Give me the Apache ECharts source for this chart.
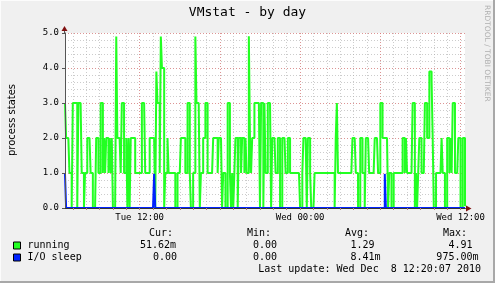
<!DOCTYPE html>
<html><head><meta charset="utf-8">
<script src="https://cdn.jsdelivr.net/npm/echarts@6/dist/echarts.min.js"></script>
<style>html,body{margin:0;padding:0;background:#f0f0f0}#c{width:495px;height:283px}</style>
</head><body><div id="c"></div>
<script>
// 5-minute samples, first sample Tue 06:25, last Wed 12:20
const startMinute = 6 * 60 + 25;
const stepMinutes = 5;
const running = [
 3,2,2,2,1,1,0,3,3,3,3,0,3,3,3,1,1,0,1,1,
 2,2,2,1,1,0,0,0,2,2,1,1,3,3,1,2,1,2,2,1,
 2,1,2,0,0,0,4.9,2,2,2,1,3,3,1,1,2,0,2,0,2,
 2,2,2,1,1,1,1,1,1,3,3,3,1,1,1,1,2,2,2,2,
 2,0,3.9,3,3,1,4.9,4,4,0,1,1,2,1,1,1,1,1,1,0,
 0,1,1,1,2,2,2,2,1,1,3,3,1,0,0,1,1,4.9,3,3,
 3,0,1,1,2,2,3,3,1,1,1,1,1,2,2,2,2,1,2,2,
 2,0,1,1,0,0,3,3,1,0,1,0,1,2,2,0,2,2,1,2,
 2,1,2,1,1,4.91,2,1,2,2,3,3,3,3,3,0,3,3,0,3,
 1,1,3,3,3,0,2,2,2,1,1,2,2,0,0,2,2,2,1,1,
 2,2,1,1,1,1,1,1,1,1,1,0,0,1,2,2,2,0,2,2,
 1,0,0,0,1,1,1,1,1,1,1,1,1,1,1,1,1,1,1,1,
 1,1,0,2,3,1,1,1,1,1,1,1,1,1,1,1,1,1,2,2,
 2,1,1,0,0,2,2,1,1,0,2,2,2,1,1,1,1,1,2,2,
 2,1,1,3,3,2,2,2,2,2,0,1,1,0,0,1,1,1,1,1,
 1,1,1,2,2,1,2,1,1,1,1,1,3,3,0,1,0,1,2,2,
 1,1,1,3,3,2,2,3.9,3.9,3.65,2,0,0,1,1,1,1,1,2,1,
 1,0,0,2,2,1,2,1,3,3,1,1,1,2,2,0,0,2,2,0.05162
];
const ioSleepIdx = [0, 80, 287];
const ioSleepVal = [0.975, 0.975, 0.975];
const tickLabels = ['Tue 12:00', 'Wed 00:00', 'Wed 12:00'];
const seriesNames = ['running', 'I/O sleep'];
const seriesColors = ['#22ff22', '#0022ff'];
const statHeaders = ['Cur:', 'Min:', 'Avg:', 'Max:'];
const runningStats = ['51.62m', '0.00', '1.29', '4.91'];
const ioSleepStats = ['0.00', '0.00', '8.41m', '975.00m'];
const lastUpdate = 'Last update: Wed Dec  8 12:20:07 2010';
const titleText = 'VMstat - by day';
const yName = 'process states';
const sideText = 'RRDTOOL / TOBI OETIKER';

const categories = running.map((_, i) => {
  const m = startMinute + i * stepMinutes;
  const day = m >= 1440 ? 'Wed' : 'Tue';
  const mm = m % 1440;
  const h = String(Math.floor(mm / 60)).padStart(2, '0');
  const mi = String(mm % 60).padStart(2, '0');
  return day + ' ' + h + ':' + mi;
});
const ioSleep = running.map(() => 0);
ioSleepIdx.forEach((k, j) => { ioSleep[k] = ioSleepVal[j]; });

const isHour = v => v.endsWith(':00');
const isMajor = v => isHour(v) && (parseInt(v.slice(4, 6), 10) % 6 === 0);

const MONO = '"DejaVu Sans Mono", monospace';
const SANS = '"DejaVu Sans", sans-serif';
const minorGrid = { color: 'rgba(170,170,170,0.6)', width: 1, type: [1, 2] };
const majorGrid = { color: 'rgba(230,110,110,0.6)', width: 1, type: [1, 2] };

const chart = echarts.init(document.getElementById('c'), null, { renderer: 'canvas' });

const xBase = { type: 'category', data: categories, boundaryGap: false, gridIndex: 0, position: 'bottom', offset: 0 };
const yBase = { type: 'value', min: 0, max: 5, gridIndex: 0, position: 'left', offset: 0 };
const graphics = [];
// frame
graphics.push({ type: 'rect', shape: { x: 0, y: 0, width: 495, height: 283 }, style: { fill: '#f0f0f0' }, z: -10 });
graphics.push({ type: 'line', shape: { x1: 0, y1: 0.5, x2: 495, y2: 0.5 }, style: { stroke: '#fcfcfc', lineWidth: 1 } });
graphics.push({ type: 'line', shape: { x1: 0.5, y1: 0, x2: 0.5, y2: 283 }, style: { stroke: '#fcfcfc', lineWidth: 1 } });
graphics.push({ type: 'line', shape: { x1: 0, y1: 282, x2: 495, y2: 282 }, style: { stroke: '#a8a8a8', lineWidth: 2 } });
graphics.push({ type: 'line', shape: { x1: 494, y1: 0, x2: 494, y2: 283 }, style: { stroke: '#a8a8a8', lineWidth: 2 } });
// plot canvas
graphics.push({ type: 'rect', shape: { x: 65, y: 33, width: 400, height: 175 }, style: { fill: '#ffffff' }, z: -5 });
// title
graphics.push({ type: 'text', x: 247.5, y: 13, style: { text: titleText, font: '13px ' + MONO, fill: '#000', align: 'center', verticalAlign: 'middle' } });
// side text
graphics.push({ type: 'text', x: 487, y: 5, rotation: -Math.PI / 2, style: { text: sideText, font: '7.5px ' + SANS, fill: '#b0b0b0', align: 'left', verticalAlign: 'middle' } });
// y name
graphics.push({ type: 'text', x: 12, y: 120, rotation: Math.PI / 2, style: { text: yName, font: '10px ' + SANS, fill: '#000', align: 'center', verticalAlign: 'middle' } });
// axis extensions + arrows
graphics.push({ type: 'line', shape: { x1: 64.5, y1: 33, x2: 64.5, y2: 29 }, style: { stroke: '#555', lineWidth: 1 }, z: 50 });
graphics.push({ type: 'polygon', shape: { points: [[61.5, 31], [67.5, 31], [64.5, 26]] }, style: { fill: '#7f1010' }, z: 50 });
graphics.push({ type: 'line', shape: { x1: 465, y1: 208.5, x2: 468, y2: 208.5 }, style: { stroke: '#555', lineWidth: 1 }, z: 50 });
graphics.push({ type: 'polygon', shape: { points: [[466, 205.5], [466, 211.5], [471.5, 208.5]] }, style: { fill: '#7f1010' }, z: 50 });
// legend
const legendFont = '10px ' + MONO;
const headerX = [149, 247, 345, 443];
statHeaders.forEach((h, i) => graphics.push({ type: 'text', x: headerX[i], y: 233.5, style: { text: h, font: legendFont, fill: '#000', verticalAlign: 'middle' } }));
const rowsY = [245.5, 257.5];
const statsRows = [runningStats, ioSleepStats];
const statColRight = [[176, 277, 374.5, 472.5], [177, 277, 380.5, 478.5]];
seriesNames.forEach((n, r) => {
  graphics.push({ type: 'rect', shape: { x: 13.5, y: rowsY[r] - 3.5, width: 7, height: 7 }, style: { fill: seriesColors[r], stroke: '#000', lineWidth: 1 } });
  graphics.push({ type: 'text', x: 27.5, y: rowsY[r], style: { text: n, font: legendFont, fill: '#000', verticalAlign: 'middle' } });
  statsRows[r].forEach((s, c) => graphics.push({ type: 'text', x: statColRight[r][c], y: rowsY[r], style: { text: s, font: legendFont, fill: '#000', align: 'right', verticalAlign: 'middle' } }));
});
graphics.push({ type: 'text', x: 481, y: 269.5, style: { text: lastUpdate, font: legendFont, fill: '#000', align: 'right', verticalAlign: 'middle' } });

chart.setOption({
  animation: false,
  backgroundColor: 'transparent',
  grid: { left: 65, top: 33, width: 400, height: 175, containLabel: false },
  xAxis: [
    Object.assign({}, xBase, { z: 0, axisLine: { show: false }, axisTick: { show: false }, axisLabel: { show: false },
      splitLine: { show: true, interval: (i, v) => isHour(v), lineStyle: minorGrid } }),
    Object.assign({}, xBase, { z: 1, axisLine: { show: false }, axisTick: { show: false }, axisLabel: { show: false },
      splitLine: { show: true, interval: (i, v) => isMajor(v), lineStyle: majorGrid } }),
    Object.assign({}, xBase, { z: 10, splitLine: { show: false },
      axisLine: { show: true, onZero: false, lineStyle: { color: '#333', width: 1 } },
      axisTick: { show: true, length: 2, inside: false, interval: (i, v) => isHour(v), lineStyle: { color: '#b08080' } },
      axisLabel: { show: true, interval: (i, v) => tickLabels.includes(v), formatter: v => v, margin: 5,
        fontFamily: MONO, fontSize: 9, color: '#000' } })
  ],
  yAxis: [
    Object.assign({}, yBase, { interval: 0.2, z: 0, axisLine: { show: false }, axisTick: { show: false }, axisLabel: { show: false },
      splitLine: { show: true, lineStyle: minorGrid } }),
    Object.assign({}, yBase, { interval: 1, z: 1, axisLine: { show: false }, axisTick: { show: false }, axisLabel: { show: false },
      splitLine: { show: true, lineStyle: majorGrid } }),
    Object.assign({}, yBase, { interval: 1, z: 10, splitLine: { show: false },
      axisLine: { show: true, onZero: false, lineStyle: { color: '#555', width: 1 } },
      axisTick: { show: true, length: 3, lineStyle: { color: '#555' } },
      axisLabel: { show: true, formatter: v => v.toFixed(1), margin: 6, fontFamily: MONO, fontSize: 9, color: '#000' } })
  ],
  series: [
    { name: seriesNames[0], type: 'line', xAxisIndex: 0, yAxisIndex: 0, data: running, step: 'end', showSymbol: false,
      lineStyle: { color: seriesColors[0], width: 2 }, z: 3, silent: true },
    { name: seriesNames[1], type: 'line', xAxisIndex: 0, yAxisIndex: 0, data: ioSleep, step: 'end', showSymbol: false,
      lineStyle: { color: seriesColors[1], width: 2 }, z: 4, silent: true }
  ],
  graphic: graphics
});
</script>
</body></html>
